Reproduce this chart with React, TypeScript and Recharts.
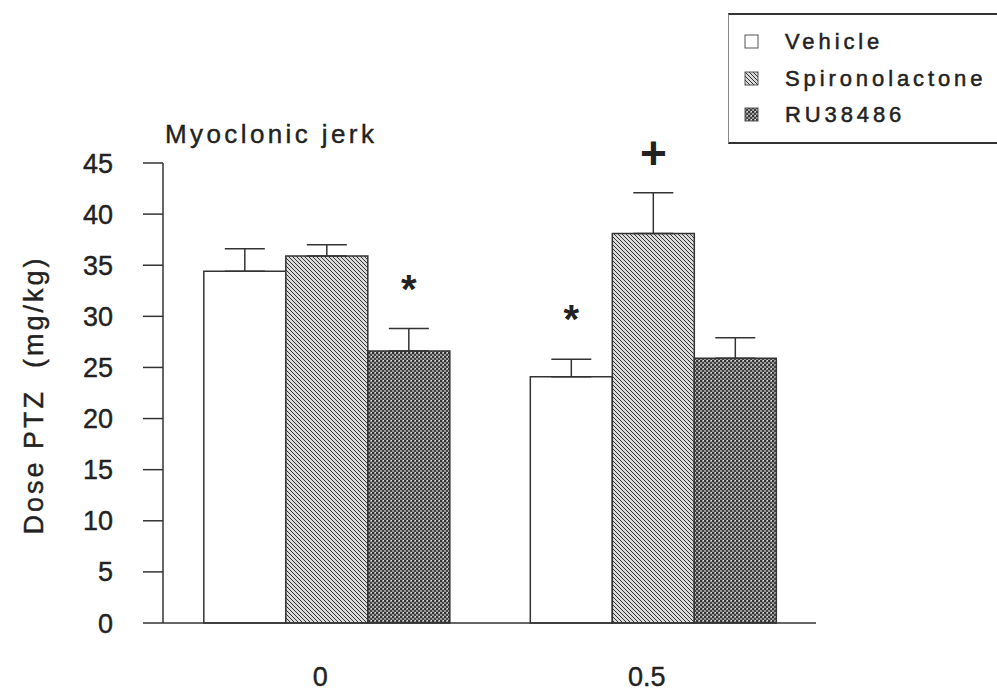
import { BarChart, Bar, XAxis, YAxis, ErrorBar, LabelList } from "recharts";

const doses = ["0", "0.5"];
const seriesNames = ["Vehicle", "Spironolactone", "RU38486"];
const vehicle = [34.4, 24.1];
const spironolactone = [35.9, 38.1];
const ru38486 = [26.6, 25.9];
const vehicleErr = [2.2, 1.7];
const spironolactoneErr = [1.1, 4.0];
const ru38486Err = [2.2, 2.0];
const vehicleMarks = ["", "*"];
const spironolactoneMarks = ["", "+"];
const ru38486Marks = ["*", ""];
const yTicks = [0, 5, 10, 15, 20, 25, 30, 35, 40, 45];

const FONT = "'Liberation Sans', Arial, sans-serif";
const INK = "#222";
const fills = ["#ffffff", "url(#hatch)", "url(#speckle)"];

const data = doses.map((dose, i) => ({
  dose,
  vehicle: vehicle[i],
  spironolactone: spironolactone[i],
  ru38486: ru38486[i],
  // only the upper whisker is drawn in the original
  vehicleErr: [0, vehicleErr[i]],
  spironolactoneErr: [0, spironolactoneErr[i]],
  ru38486Err: [0, ru38486Err[i]],
}));

const makeMark = (marks: string[], errs: number[], vals: number[]) => (props: any) => {
  const vb = props.viewBox || props;
  const i = props.index;
  const m = marks[i];
  if (!m) return null;
  const pxPerUnit = vb.height / vals[i];
  const errTop = vb.y - errs[i] * pxPerUnit;
  const plus = m === "+";
  return (
    <text
      x={vb.x + vb.width / 2}
      y={plus ? errTop - 24 : errTop - 26}
      textAnchor="middle"
      fontSize={plus ? 46 : 40}
      fontWeight="bold"
      fontFamily={FONT}
      fill={INK}
    >
      {m}
    </text>
  );
};

function ChartLegend() {
  return (
    <div
      style={{
        position: "absolute",
        left: 728,
        top: 13,
        boxSizing: "border-box",
        width: 269,
        height: 131,
        borderTop: "2px solid #333",
        borderBottom: "2px solid #333",
        borderLeft: "1px solid #888",
        paddingTop: 9,
        fontFamily: FONT,
        fontSize: 22,
        letterSpacing: 3.9,
        color: INK,
        WebkitTextStroke: "0.5px #222",
        whiteSpace: "nowrap",
      }}
    >
      {seriesNames.map((name, i) => (
        <div key={name} style={{ display: "flex", alignItems: "center", height: 36.5 }}>
          <svg width={16} height={16} style={{ marginLeft: 15, marginRight: 25 }}>
            <rect x={1} y={1} width={13} height={13} fill={fills[i]} stroke="#555" strokeWidth={1} />
          </svg>
          <span>{name}</span>
        </div>
      ))}
    </div>
  );
}

export default function App() {
  return (
    <div style={{ position: "absolute", left: 0, top: 0, width: 997, height: 694, background: "#fff" }}>
      <BarChart
        width={997}
        height={694}
        data={data}
        margin={{ top: 163, right: 181, bottom: 0, left: 0 }}
        barCategoryGap="12.5%"
        barGap={0}
      >
        <defs>
          <pattern id="hatch" patternUnits="userSpaceOnUse" width={4} height={4}>
            <rect width={4} height={4} fill="#dadada" />
            <path d="M-1,-1 L5,5 M-1,3 L1,5 M3,-1 L5,1" stroke="#333" strokeWidth={1} />
          </pattern>
          <pattern id="speckle" patternUnits="userSpaceOnUse" width={4} height={4}>
            <rect width={4} height={4} fill="#9a9a9a" />
            <rect x={0} y={0} width={2} height={2} fill="#333" />
            <rect x={2} y={2} width={2} height={2} fill="#444" />
            <rect x={3} y={0} width={1} height={1} fill="#e0e0e0" />
          </pattern>
        </defs>
        <text
          x={165}
          y={143}
          fontFamily={FONT}
          fontSize={26}
          letterSpacing={3.4}
          fill={INK}
          stroke={INK}
          strokeWidth={0.4}
          style={{ whiteSpace: "pre" }}
        >
          {"Myoclonic jerk"}
        </text>
        <text
          transform="translate(34,395) rotate(-90)"
          textAnchor="middle"
          dominantBaseline="central"
          fontFamily={FONT}
          fontSize={27}
          letterSpacing={3}
          fill={INK}
          stroke={INK}
          strokeWidth={0.4}
          style={{ whiteSpace: "pre" }}
        >
          {"Dose PTZ  (mg/kg)"}
        </text>
        <XAxis
          dataKey="dose"
          height={71}
          tickLine={false}
          tickSize={0}
          tickMargin={44}
          axisLine={{ stroke: "#333", strokeWidth: 1.5 }}
          tick={{ fontFamily: FONT, fontSize: 27, fill: INK, stroke: INK, strokeWidth: 0.4, dx: -6 }}
        />
        <YAxis
          domain={[0, 45]}
          ticks={yTicks}
          width={163}
          tickSize={20}
          tickMargin={30}
          interval={0}
          axisLine={{ stroke: "#333", strokeWidth: 1.5 }}
          tickLine={{ stroke: "#333", strokeWidth: 1.5 }}
          tick={{ fontFamily: FONT, fontSize: 27, fill: INK, stroke: INK, strokeWidth: 0.4 }}
        />
        <Bar dataKey="vehicle" name="Vehicle" fill={fills[0]} stroke="#333" strokeWidth={1.5} isAnimationActive={false}>
          <ErrorBar dataKey="vehicleErr" direction="y" width={20} stroke="#333" strokeWidth={1.5} isAnimationActive={false} />
          <LabelList content={makeMark(vehicleMarks, vehicleErr, vehicle)} />
        </Bar>
        <Bar dataKey="spironolactone" name="Spironolactone" fill={fills[1]} stroke="#333" strokeWidth={1.5} isAnimationActive={false}>
          <ErrorBar dataKey="spironolactoneErr" direction="y" width={20} stroke="#333" strokeWidth={1.5} isAnimationActive={false} />
          <LabelList content={makeMark(spironolactoneMarks, spironolactoneErr, spironolactone)} />
        </Bar>
        <Bar dataKey="ru38486" name="RU38486" fill={fills[2]} stroke="#333" strokeWidth={1.5} isAnimationActive={false}>
          <ErrorBar dataKey="ru38486Err" direction="y" width={20} stroke="#333" strokeWidth={1.5} isAnimationActive={false} />
          <LabelList content={makeMark(ru38486Marks, ru38486Err, ru38486)} />
        </Bar>
      </BarChart>
      <ChartLegend />
    </div>
  );
}
